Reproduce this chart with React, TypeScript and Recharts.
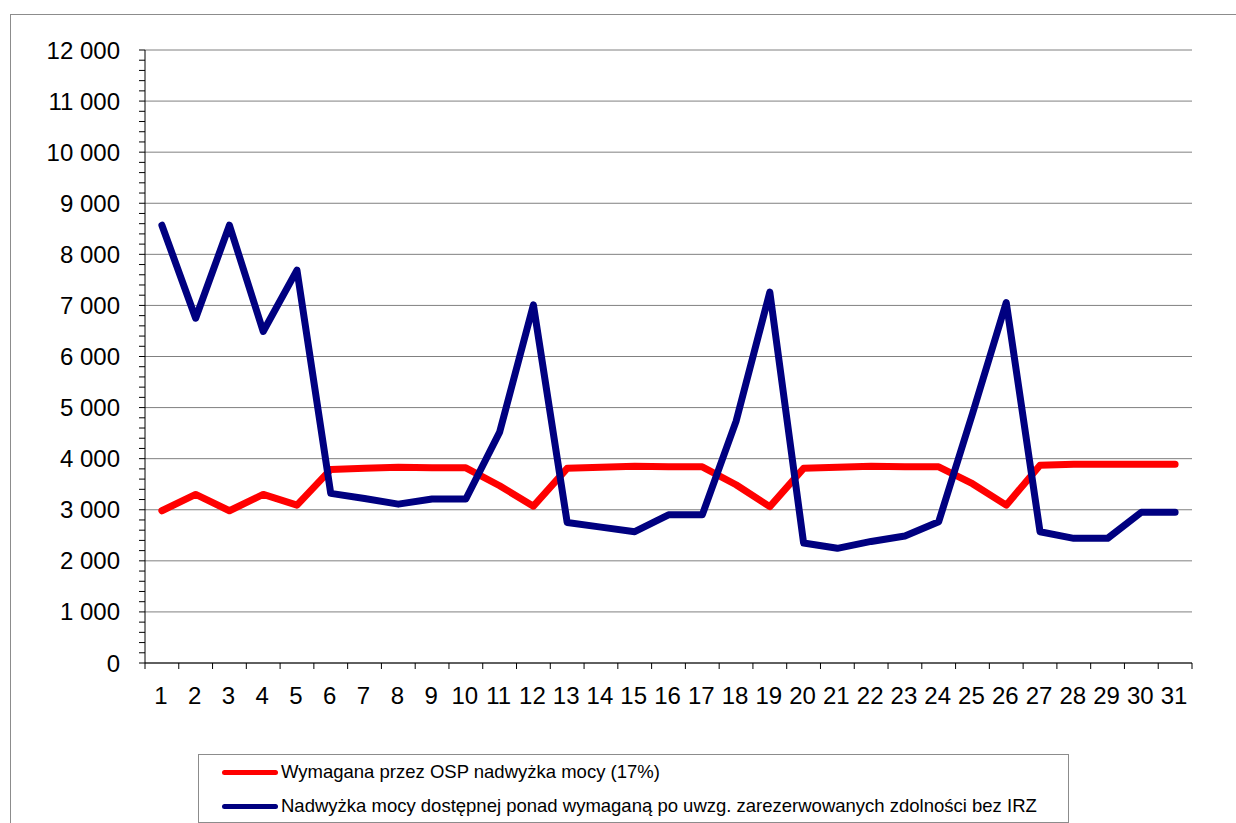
import React from 'react';
import { LineChart, Line, XAxis, YAxis, CartesianGrid } from 'recharts';

const days = ['1','2','3','4','5','6','7','8','9','10','11','12','13','14','15','16','17','18','19','20','21','22','23','24','25','26','27','28','29','30','31'];
const required = [2980,3300,2980,3300,3090,3790,3810,3830,3820,3820,3470,3070,3810,3830,3850,3840,3840,3490,3060,3810,3830,3850,3840,3840,3510,3090,3870,3890,3890,3890,3890];
const surplus = [8570,6750,8570,6490,7690,3320,3220,3110,3210,3210,4520,7010,2750,2660,2570,2900,2900,4730,7260,2350,2245,2380,2485,2765,4880,7055,2570,2440,2440,2950,2950];
const majorTicks = [0,1000,2000,3000,4000,5000,6000,7000,8000,9000,10000,11000,12000];
const minorTicks = Array.from({ length: 61 }, (_, i) => i * 200);
const seriesNames = [
  'Wymagana przez OSP nadwyżka mocy (17%)',
  'Nadwyżka mocy dostępnej ponad wymaganą po uwzg. zarezerwowanych zdolności bez IRZ',
];
const colors = ['#FF0000', '#000080'];

const data = days.map((d, i) => ({ day: d, required: required[i], surplus: surplus[i] }));

const W = 1236;
const H = 823;
const PLOT_LEFT = 145;
const PLOT_RIGHT = 1192;
const PLOT_TOP = 50;
const PLOT_BOTTOM = 663;
const BAND = (PLOT_RIGHT - PLOT_LEFT) / days.length;
const FONT = '"Liberation Sans", Arial, sans-serif';

const fmt = (v: number) => {
  const s = String(v);
  return s.length > 3 ? s.slice(0, s.length - 3) + ' ' + s.slice(-3) : s;
};

const YTick = (props: any) => {
  const { x, y, payload } = props;
  if (payload.value % 1000 !== 0) return null;
  return (
    <text x={x} y={y} textAnchor="end" dominantBaseline="central" fontSize={24} fontFamily={FONT} fill="#000">
      {fmt(payload.value)}
    </text>
  );
};

const XTick = (props: any) => {
  const { x, y, payload, index } = props;
  const last = index === days.length - 1;
  return (
    <g>
      <line x1={x - BAND / 2} x2={x - BAND / 2} y1={y} y2={y + 6} stroke="#000" strokeWidth={1} />
      {last && <line x1={x + BAND / 2} x2={x + BAND / 2} y1={y} y2={y + 6} stroke="#000" strokeWidth={1} />}
      <text x={x - 1} y={y + 32} textAnchor="middle" dominantBaseline="central" fontSize={24} fontFamily={FONT} fill="#000">
        {payload.value}
      </text>
    </g>
  );
};

export default function App() {
  return (
    <div style={{ position: 'absolute', left: 0, top: 0, width: W, height: H, overflow: 'hidden', background: '#fff' }}>
      <div style={{ position: 'absolute', left: 10, top: 14, width: 1260, height: 900, border: '1px solid #8c8c8c', boxSizing: 'border-box' }} />
      <div style={{ position: 'absolute', left: 0, top: 0 }}>
        <LineChart
          width={W}
          height={H}
          data={data}
          margin={{ top: PLOT_TOP, right: W - PLOT_RIGHT, left: 0, bottom: H - PLOT_BOTTOM - 40 }}
        >
          <CartesianGrid vertical={false} horizontalValues={majorTicks} stroke="#808080" strokeWidth={1} />
          <XAxis
            dataKey="day"
            height={40}
            interval={0}
            tickSize={0}
            tickMargin={0}
            tickLine={false}
            padding={{ left: BAND / 2, right: BAND / 2 }}
            tick={<XTick />}
            axisLine={{ stroke: '#000', strokeWidth: 1 }}
          />
          <YAxis
            width={PLOT_LEFT}
            domain={[0, 12000]}
            ticks={minorTicks}
            interval={0}
            tickSize={6}
            tickMargin={19}
            tickLine={{ stroke: '#000', strokeWidth: 1 }}
            axisLine={{ stroke: '#000', strokeWidth: 1 }}
            tick={<YTick />}
          />
          <Line dataKey="required" name={seriesNames[0]} stroke={colors[0]} strokeWidth={7} dot={false} isAnimationActive={false} strokeLinejoin="round" strokeLinecap="round" />
          <Line dataKey="surplus" name={seriesNames[1]} stroke={colors[1]} strokeWidth={7} dot={false} isAnimationActive={false} strokeLinejoin="round" strokeLinecap="round" />
        </LineChart>
      </div>
      <div style={{ position: 'absolute', left: 198, top: 754, width: 871, height: 69, border: '1px solid #8c8c8c', boxSizing: 'border-box', background: '#fff', fontFamily: FONT, fontSize: 18.5, color: '#000' }}>
        {seriesNames.map((n, i) => (
          <div key={n} style={{ position: 'absolute', left: 23, top: 4 + i * 34, height: 26, display: 'flex', alignItems: 'center', whiteSpace: 'nowrap' }}>
            <span style={{ display: 'inline-block', width: 56, height: 5, background: colors[i], borderRadius: 3, marginRight: 3 }} />
            <span>{n}</span>
          </div>
        ))}
      </div>
    </div>
  );
}
